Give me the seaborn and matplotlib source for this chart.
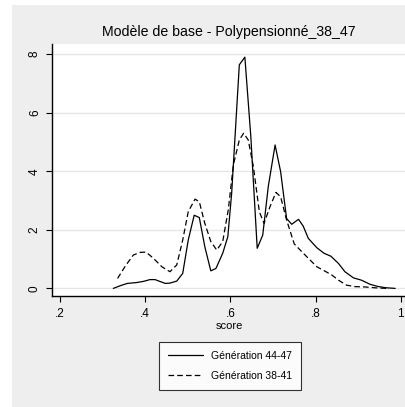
import matplotlib
matplotlib.use("Agg")
import matplotlib.pyplot as plt
from matplotlib.patches import Rectangle
import seaborn as sns
import pandas as pd

# Kernel density estimates of the score, one curve per generation
score_44_47 = [0.325, 0.341, 0.358, 0.380, 0.396, 0.411, 0.423, 0.447, 0.458, 0.474,
               0.488, 0.501, 0.515, 0.527, 0.540, 0.554, 0.566, 0.582, 0.594, 0.603,
               0.621, 0.634, 0.648, 0.663, 0.676, 0.689, 0.705, 0.718, 0.732, 0.744,
               0.760, 0.771, 0.783, 0.803, 0.820, 0.836, 0.854, 0.869, 0.889, 0.908,
               0.928, 0.948, 0.967, 0.987]
density_44_47 = [0.00, 0.09, 0.17, 0.20, 0.24, 0.30, 0.30, 0.17, 0.18, 0.25,
                 0.51, 1.65, 2.50, 2.42, 1.42, 0.60, 0.68, 1.20, 1.77, 3.25,
                 7.64, 7.90, 5.19, 1.37, 1.82, 3.48, 4.90, 3.99, 2.39, 2.19,
                 2.36, 2.13, 1.71, 1.39, 1.20, 1.10, 0.85, 0.57, 0.36, 0.28,
                 0.14, 0.06, 0.02, 0.00]

score_38_41 = [0.335, 0.353, 0.372, 0.388, 0.402, 0.419, 0.439, 0.458, 0.474, 0.488,
               0.501, 0.517, 0.527, 0.540, 0.554, 0.568, 0.582, 0.595, 0.607, 0.621,
               0.631, 0.642, 0.654, 0.668, 0.679, 0.693, 0.707, 0.718, 0.732, 0.750,
               0.768, 0.783, 0.803, 0.822, 0.838, 0.854, 0.873, 0.893, 0.916, 0.940,
               0.967]
density_38_41 = [0.34, 0.76, 1.14, 1.23, 1.24, 1.03, 0.74, 0.57, 0.80, 1.65,
                 2.62, 3.05, 2.96, 2.22, 1.60, 1.31, 1.60, 2.68, 4.22, 5.07,
                 5.30, 5.07, 4.16, 2.62, 2.22, 2.79, 3.28, 3.13, 2.34, 1.52,
                 1.25, 1.03, 0.74, 0.59, 0.46, 0.28, 0.11, 0.06, 0.05, 0.02,
                 0.00]

labels = ["Génération 44-47", "Génération 38-41"]
x_ticks = [0.2, 0.4, 0.6, 0.8, 1.0]
x_tick_labels = [".2", ".4", ".6", ".8", "1"]
y_ticks = [0, 2, 4, 6, 8]
y_tick_labels = ["0", "2", "4", "6", "8"]

sns.set_theme(style="white")
plt.rcParams["font.family"] = ["Liberation Sans", "DejaVu Sans"]

W, H = 406, 407
fig = plt.figure(figsize=(W / 100, H / 100), dpi=100)
fig.patch.set_facecolor("white")
# light grey graph region
fig.patches.append(Rectangle((12 / W, 0), 1 - 12 / W, 1 - 5 / H,
                             transform=fig.transFigure, facecolor="#eeeeee",
                             edgecolor="none", zorder=-10))

ax = fig.add_axes([52 / W, 1 - 296 / H, (406 - 52) / W, (296 - 44) / H])
ax.set_facecolor("white")

df_a = pd.DataFrame({"score": score_44_47, "density": density_44_47})
df_b = pd.DataFrame({"score": score_38_41, "density": density_38_41})

sns.lineplot(data=df_a, x="score", y="density", ax=ax, color="black",
             linewidth=0.9, label=labels[0], sort=False)
sns.lineplot(data=df_b, x="score", y="density", ax=ax, color="black",
             linewidth=0.9, linestyle=(0, (4.5, 2.5)), label=labels[1], sort=False)

ax.set_xlim(0.181, 1.0125)
ax.set_ylim(-0.26, 8.35)
ax.set_xticks(x_ticks)
ax.set_xticklabels(x_tick_labels)
ax.set_yticks(y_ticks)
ax.set_yticklabels(y_tick_labels, rotation=90, va="center")
ax.tick_params(axis="both", direction="out", length=4, width=0.8, color="black",
               labelsize=8.5, labelcolor="black")
ax.tick_params(axis="x", bottom=True, length=4, pad=4.5)
ax.tick_params(axis="y", left=True, length=4, pad=4)

ax.yaxis.grid(True, color="#e6e6e6", linewidth=1.0)
ax.xaxis.grid(False)
ax.set_axisbelow(True)

for side in ("top", "right"):
    ax.spines[side].set_visible(False)
for side in ("left", "bottom"):
    ax.spines[side].set_color("black")
    ax.spines[side].set_linewidth(1.0)

ax.set_xlabel("score", fontsize=8, color="black", labelpad=1)
ax.set_ylabel("")

fig.text((52 + 406) / 2 / W, 1 - 32 / H, "Modèle de base - Polypensionné_38_47",
         ha="center", va="center", fontsize=10.2, color="black")

leg = ax.legend(loc="upper center", bbox_to_anchor=(0.503, -0.182), ncol=1,
                fontsize=7.5, frameon=True, fancybox=False, handlelength=3.4,
                handletextpad=0.8, borderpad=0.85, labelspacing=1.0,
                borderaxespad=0)
leg.get_frame().set_edgecolor("black")
leg.get_frame().set_linewidth(0.8)
leg.get_frame().set_facecolor("white")
for t in leg.get_texts():
    t.set_color("black")

fig.savefig("out.png", dpi=100)
